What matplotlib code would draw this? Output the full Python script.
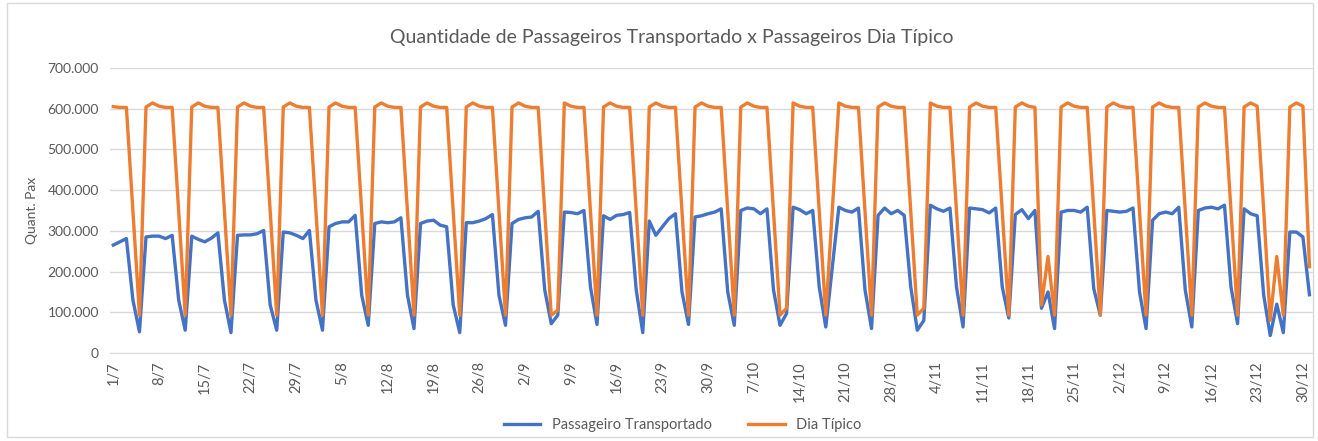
import pandas as pd
import matplotlib.pyplot as plt
from matplotlib.ticker import FuncFormatter
from matplotlib.patches import Rectangle

plt.rcParams['font.family'] = ['Lato', 'DejaVu Sans']

# dias de 1/7/2020 a 31/12/2020
datas = pd.date_range('2020-07-01', '2020-12-31', freq='D')
rotulos = [f"{d.day}/{d.month}" for d in datas]

# passageiros transportados (mil)
transportado = [
    265, 273, 281, 130, 52,
    285, 287, 287, 281, 289, 130, 56,
    287, 279, 273, 282, 295, 130, 50,
    289, 290, 290, 293, 301, 118, 56,
    297, 295, 289, 281, 301, 130, 56,
    310, 318, 322, 322, 338, 142, 68,
    318, 322, 320, 322, 332, 142, 60,
    318, 324, 326, 314, 310, 118, 50,
    320, 320, 324, 330, 340, 142, 68,
    318, 328, 332, 334, 348, 155, 72,
    93, 346, 345, 342, 350, 162, 70,
    337, 328, 338, 340, 345, 155, 50,
    324, 289, 310, 330, 342, 150, 70,
    334, 337, 342, 346, 354, 150, 68,
    350, 356, 354, 342, 354, 155, 68,
    97, 358, 352, 342, 350, 162, 64,
    210, 358, 350, 346, 356, 155, 60,
    338, 356, 342, 350, 338, 162, 56,
    80, 363, 354, 348, 356, 162, 64,
    356, 354, 352, 344, 356, 162, 86,
    340, 352, 330, 350, 110, 150, 60,
    346, 350, 350, 346, 358, 158, 93,
    350, 348, 346, 348, 356, 150, 60,
    326, 342, 346, 342, 358, 155, 64,
    350, 356, 358, 354, 363, 162, 72,
    354, 342, 337, 142, 43, 120, 50,
    297, 297, 285, 143,
]

# dia tipico (mil)
dia_tipico = [
    605, 603, 603, 350, 93,
    604, 614, 606, 603, 603, 350, 93,
    604, 614, 606, 603, 603, 350, 93,
    604, 614, 606, 603, 603, 350, 93,
    604, 614, 606, 603, 603, 350, 93,
    604, 614, 606, 603, 603, 350, 93,
    604, 614, 606, 603, 603, 350, 93,
    604, 614, 606, 603, 603, 350, 93,
    604, 614, 606, 603, 603, 350, 93,
    604, 614, 606, 603, 603, 350, 93,
    105, 614, 606, 603, 603, 350, 93,
    604, 614, 606, 603, 603, 350, 93,
    604, 614, 606, 603, 603, 350, 93,
    604, 614, 606, 603, 603, 350, 93,
    604, 614, 606, 603, 603, 350, 93,
    110, 614, 606, 603, 603, 350, 93,
    350, 614, 606, 603, 603, 350, 93,
    604, 614, 606, 603, 603, 350, 93,
    110, 614, 606, 603, 603, 350, 93,
    604, 614, 606, 603, 603, 350, 93,
    604, 614, 606, 603, 118, 237, 93,
    604, 614, 606, 603, 603, 350, 93,
    604, 614, 606, 603, 603, 350, 93,
    604, 614, 606, 603, 603, 350, 93,
    604, 614, 606, 603, 603, 350, 93,
    604, 614, 606, 350, 80, 237, 93,
    604, 614, 606, 212,
]

transportado = [v * 1000 for v in transportado]
dia_tipico = [v * 1000 for v in dia_tipico]
x = list(range(len(datas)))

cinza = '#595959'
fig = plt.figure(figsize=(13.18, 4.41), dpi=100)
ax = fig.add_axes([0.0835, 0.1995, 0.9125, 0.6465])

ax.plot(x, transportado, color='#4472C4', lw=2.4, label='Passageiro Transportado')
ax.plot(x, dia_tipico, color='#ED7D31', lw=2.4, label='Dia Típico')

ax.set_ylim(0, 700000)
ax.set_yticks(range(0, 700001, 100000))
ax.yaxis.set_major_formatter(FuncFormatter(lambda v, p: f"{int(v):,}".replace(',', '.')))
ax.set_xlim(-0.5, 183.5)
ax.set_xticks(x[::7])
ax.set_xticklabels(rotulos[::7], rotation=90)
ax.grid(axis='y', color='#d9d9d9', lw=1)
ax.set_axisbelow(True)
for s in ['top', 'right', 'left']:
    ax.spines[s].set_visible(False)
ax.spines['bottom'].set_color('#d9d9d9')
ax.tick_params(axis='x', length=0, labelsize=10.5, colors=cinza, pad=6)
ax.tick_params(axis='y', length=0, labelsize=10, colors=cinza, pad=8)

ax.set_ylabel('Quant. Pax', fontsize=10, color=cinza, labelpad=7)
fig.text(0.51, 0.914, 'Quantidade de Passageiros Transportado x Passageiros Dia Típico',
         ha='center', va='center', fontsize=14, color=cinza)

fig.legend(loc='center', bbox_to_anchor=(0.518, 0.036), ncol=2, frameon=False,
           fontsize=10.5, labelcolor=cinza, handlelength=2.5, columnspacing=2.5)

fig.patches.append(Rectangle((0.005, 0.008), 0.991, 0.985, transform=fig.transFigure,
                             fill=False, edgecolor='#d9d9d9', lw=1))

fig.savefig('out.png', dpi=100)
